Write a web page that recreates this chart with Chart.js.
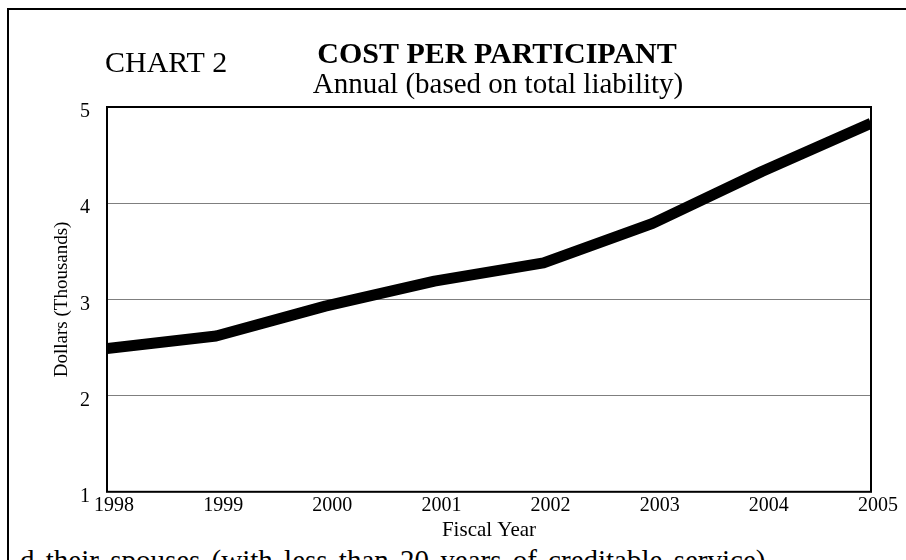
<!DOCTYPE html>
<html>
<head>
<meta charset="utf-8">
<script src="https://cdn.jsdelivr.net/npm/chart.js@4.4.1/dist/chart.umd.min.js"></script>
<style>
    html, body {
        margin: 0;
        padding: 0;
        width: 906px;
        height: 560px;
        overflow: hidden;
        background: #ffffff;
    }
    #frame {
        position: absolute;
        left: 7px;
        top: 8px;
        width: 1000px;
        height: 1000px;
        border: 2px solid #000000;
    }
    #wrap {
        position: absolute;
        left: 0;
        top: 0;
        width: 906px;
        height: 560px;
    }
    #footText {
        position: absolute;
        left: 20px;
        top: 546px;
        font-family: "Liberation Serif", "Times New Roman", serif;
        font-size: 29px;
        line-height: 29px;
        word-spacing: 4px;
        white-space: nowrap;
        color: #000000;
    }
</style>
</head>
<body>
<div id="frame"></div>
<div id="footText">d their spouses (with less than 20 years of creditable service)</div>
<div id="wrap"><canvas id="costChart" width="906" height="560"></canvas></div>

<script>
// Chart data
var fiscalYears = ["1998", "1999", "2000", "2001", "2002", "2003", "2004", "2005"];
var costPerParticipant = [2.49, 2.62, 2.93, 3.19, 3.38, 3.79, 4.33, 4.83]; // thousands of dollars
var dollarTicks = [1, 2, 3, 4, 5];

var chartLabel = "CHART 2";
var chartTitle = "COST PER PARTICIPANT";
var chartSubtitle = "Annual (based on total liability)";

var serif = "'Liberation Serif', 'Times New Roman', serif";

// Headings drawn on the canvas (the title sits off-centre in the original)
var headingsPlugin = {
    id: "headings",
    afterDraw: function (chart) {
        var ctx = chart.ctx;
        ctx.save();
        ctx.fillStyle = "#000000";
        ctx.textBaseline = "alphabetic";

        ctx.textAlign = "left";
        ctx.font = "30px " + serif;
        ctx.fillText(chartLabel, 105, 72);

        ctx.textAlign = "center";
        ctx.font = "bold 30px " + serif;
        ctx.fillText(chartTitle, 497, 63);

        ctx.font = "29px " + serif;
        ctx.fillText(chartSubtitle, 498, 93);
        ctx.restore();
    }
};

// Black frame round the plot area
var plotBorderPlugin = {
    id: "plotBorder",
    afterDatasetsDraw: function (chart) {
        var a = chart.chartArea;
        var ctx = chart.ctx;
        ctx.save();
        ctx.strokeStyle = "#000000";
        ctx.lineWidth = 2;
        ctx.strokeRect(a.left, a.top, a.right - a.left, a.bottom - a.top);
        ctx.restore();
    }
};

var ctx = document.getElementById("costChart").getContext("2d");
var costChart = new Chart(ctx, {
    type: "line",
    data: {
        labels: fiscalYears,
        datasets: [{
            label: "Cost per participant",
            data: costPerParticipant,
            borderColor: "#000000",
            backgroundColor: "#000000",
            borderWidth: 11,
            borderJoinStyle: "round",
            borderCapStyle: "butt",
            tension: 0,
            pointRadius: 0,
            pointHoverRadius: 0,
            fill: false,
            clip: 0,
        }],
    },
    options: {
        responsive: false,
        animation: false,
        events: [],
        layout: {
            padding: { left: 51, right: 35, top: 107, bottom: 15 },
        },
        plugins: {
            legend: { display: false },
            title: { display: false },
            tooltip: { enabled: false },
        },
        scales: {
            x: {
                offset: false,
                grid: { display: false, drawTicks: false },
                border: { display: false },
                ticks: {
                    color: "#000000",
                    font: { family: serif, size: 20, lineHeight: 1.1 },
                    padding: 3,
                    labelOffset: 7,
                    maxRotation: 0,
                    autoSkip: false,
                },
                title: {
                    display: true,
                    text: "Fiscal Year",
                    color: "#000000",
                    font: { family: serif, size: 21 },
                    padding: { top: -2, bottom: 2 },
                },
            },
            y: {
                min: 1,
                max: 5,
                afterBuildTicks: function (axis) {
                    axis.ticks = dollarTicks.map(function (v) { return { value: v }; });
                },
                afterFit: function (axis) {
                    axis.width = 56;
                },
                grid: {
                    drawTicks: false,
                    lineWidth: 1,
                    color: function (c) {
                        var v = c.tick && c.tick.value;
                        return (v === 1 || v === 5) ? "rgba(0,0,0,0)" : "#7f7f7f";
                    },
                },
                border: { display: false },
                ticks: {
                    color: "#000000",
                    font: { family: serif, size: 20 },
                    padding: 17,
                    labelOffset: 5,
                },
                title: {
                    display: true,
                    text: "Dollars (Thousands)",
                    color: "#000000",
                    font: { family: serif, size: 19 },
                    padding: { top: 0, bottom: 6 },
                },
            },
        },
    },
    plugins: [headingsPlugin, plotBorderPlugin],
});
</script>
</body>
</html>
